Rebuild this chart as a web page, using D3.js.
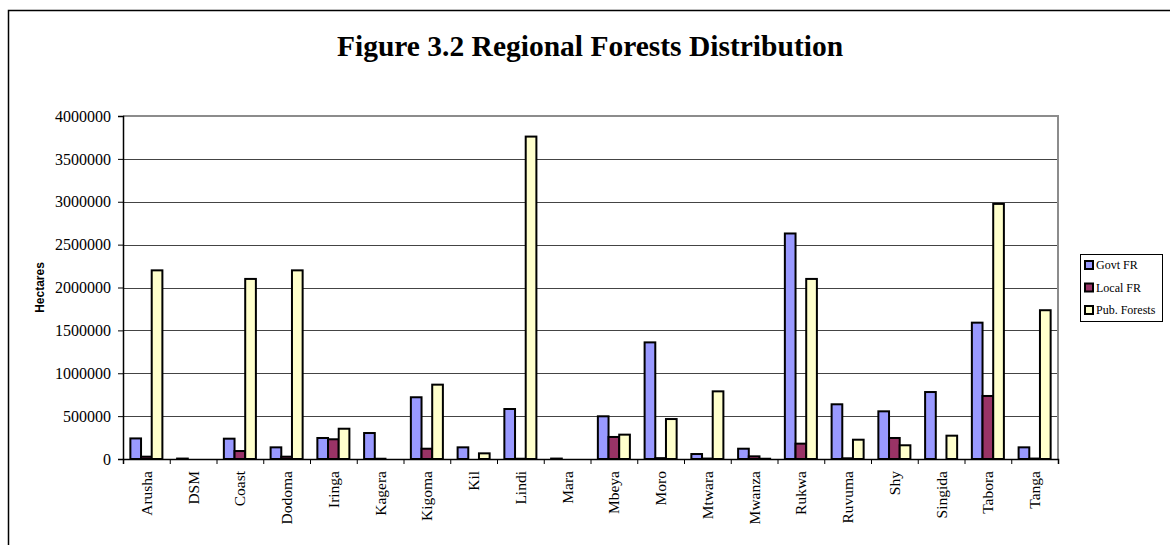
<!DOCTYPE html>
<html>
<head>
<meta charset="utf-8">
<script src="https://cdn.jsdelivr.net/npm/d3@7"></script>
<style>
  body { margin: 0; background: #fff; }
  svg { display: block; }
</style>
</head>
<body>
<script>
// Chart data
var regions = ["Arusha", "DSM", "Coast", "Dodoma", "Iringa", "Kagera", "Kigoma", "Kil", "Lindi", "Mara",
  "Mbeya", "Moro", "Mtwara", "Mwanza", "Rukwa", "Ruvuma", "Shy", "Singida", "Tabora", "Tanga"];
var govtFR = [240000, 5000, 237000, 136000, 245000, 303000, 720000, 136000, 583000, 5000,
  498000, 1360000, 58000, 120000, 2630000, 638000, 556000, 781000, 1590000, 136000];
var localFR = [27000, 0, 93000, 27000, 230000, 3000, 120000, 0, 3000, 0,
  257000, 10000, 5000, 31000, 179000, 8000, 245000, 0, 735000, 5000];
var pubForests = [2200000, 0, 2100000, 2200000, 353000, 0, 867000, 66000, 3760000, 0,
  284000, 466000, 789000, 3000, 2100000, 225000, 160000, 272000, 2975000, 1735000];
var seriesNames = ["Govt FR", "Local FR", "Pub. Forests"];
var seriesColors = ["#9999ff", "#993366", "#ffffcc"];
var yTicks = [0, 500000, 1000000, 1500000, 2000000, 2500000, 3000000, 3500000, 4000000];

// SVG area
var svgWidth = 1170;
var svgHeight = 545;
var margin = { top: 116, right: 112, bottom: 86, left: 123 };
var chartWidth = svgWidth - margin.left - margin.right;
var chartHeight = svgHeight - margin.top - margin.bottom;

var svg = d3.select("body")
  .append("svg")
  .attr("width", svgWidth)
  .attr("height", svgHeight);

// outer frame
svg.append("rect")
  .attr("x", 8.5)
  .attr("y", 10.5)
  .attr("width", svgWidth)
  .attr("height", svgHeight)
  .attr("fill", "none")
  .attr("stroke", "#000")
  .attr("stroke-width", 1.5);

// title
svg.append("text")
  .attr("x", 590)
  .attr("y", 56)
  .attr("text-anchor", "middle")
  .style("font-family", "'Liberation Serif', 'Times New Roman', serif")
  .style("font-weight", "bold")
  .style("font-size", "29.5px")
  .text("Figure 3.2 Regional Forests Distribution");

var chartGroup = svg.append("g")
  .attr("transform", `translate(${margin.left}, ${margin.top})`);

// scales
var x0 = d3.scaleBand()
  .domain(regions)
  .range([0, chartWidth])
  .paddingInner(0.315)
  .paddingOuter(0.1575);

var x1 = d3.scaleBand()
  .domain(seriesNames)
  .range([0, x0.bandwidth()]);

var yLinearScale = d3.scaleLinear()
  .domain([0, 4000000])
  .range([chartHeight, 0]);

// gridlines
chartGroup.append("g")
  .selectAll("line")
  .data(yTicks.slice(1, -1))
  .join("line")
  .attr("x1", 0)
  .attr("x2", chartWidth)
  .attr("y1", d => Math.round(yLinearScale(d)) + 0.5)
  .attr("y2", d => Math.round(yLinearScale(d)) + 0.5)
  .attr("stroke", "#444")
  .attr("stroke-width", 1);

// plot area border (top + right)
chartGroup.append("path")
  .attr("d", `M0,${yLinearScale(4000000)}H${chartWidth}V${chartHeight}`)
  .attr("fill", "none")
  .attr("stroke", "#8c8c8c")
  .attr("stroke-width", 2);

// bars
var rows = regions.map((r, i) => ({
  region: r,
  values: [govtFR[i], localFR[i], pubForests[i]]
}));

chartGroup.append("g")
  .selectAll("g")
  .data(rows)
  .join("g")
  .attr("transform", d => `translate(${x0(d.region)},0)`)
  .selectAll("rect")
  .data(d => d.values.map((v, j) => ({ name: seriesNames[j], value: v, color: seriesColors[j] })))
  .join("rect")
  .attr("x", d => x1(d.name))
  .attr("width", x1.bandwidth())
  .attr("y", d => yLinearScale(d.value))
  .attr("height", d => chartHeight - yLinearScale(d.value))
  .attr("fill", d => d.color)
  .attr("stroke", "#000")
  .attr("stroke-width", 2);

// left axis
var leftAxis = d3.axisLeft(yLinearScale)
  .tickValues(yTicks)
  .tickSize(5)
  .tickPadding(7)
  .tickFormat(d3.format("d"));

chartGroup.append("g")
  .call(leftAxis)
  .call(g => g.select(".domain").attr("stroke", "#000").attr("stroke-width", 1.5))
  .call(g => g.selectAll(".tick line").attr("stroke", "#000"))
  .call(g => g.selectAll(".tick text")
    .style("font-family", "'Liberation Serif', 'Times New Roman', serif")
    .style("font-size", "16px")
    .attr("fill", "#000"));

// bottom axis: tick marks at category boundaries
var xEdge = d3.scaleLinear().domain([0, regions.length]).range([0, chartWidth]);
var bottomAxis = d3.axisBottom(xEdge)
  .tickValues(d3.range(regions.length + 1))
  .tickSize(5)
  .tickFormat("");

chartGroup.append("g")
  .attr("transform", `translate(0, ${chartHeight})`)
  .call(bottomAxis)
  .call(g => g.select(".domain").attr("stroke", "#000").attr("stroke-width", 1.5))
  .call(g => g.selectAll(".tick line").attr("stroke", "#000"));

// category labels, rotated
chartGroup.append("g")
  .selectAll("text")
  .data(regions)
  .join("text")
  .attr("transform", d => `translate(${x0(d) + x0.bandwidth() / 2}, ${chartHeight + 12}) rotate(-90)`)
  .attr("dy", "0.35em")
  .attr("text-anchor", "end")
  .style("font-family", "'Liberation Serif', 'Times New Roman', serif")
  .style("font-size", "15.5px")
  .text(d => d);

// y axis title
svg.append("text")
  .attr("transform", `translate(44, ${margin.top + chartHeight / 2}) rotate(-90)`)
  .attr("text-anchor", "middle")
  .style("font-family", "'Liberation Sans', Arial, sans-serif")
  .style("font-weight", "bold")
  .style("font-size", "12px")
  .text("Hectares");

// legend
var legend = svg.append("g")
  .attr("transform", "translate(1080, 254)");

legend.append("rect")
  .attr("x", 0.5)
  .attr("y", 0.5)
  .attr("width", 82)
  .attr("height", 67)
  .attr("fill", "#fff")
  .attr("stroke", "#000")
  .attr("stroke-width", 1);

var legendItems = legend.selectAll("g.item")
  .data(seriesNames)
  .join("g")
  .attr("class", "item")
  .attr("transform", (d, i) => `translate(0, ${11 + i * 22.5})`);

legendItems.append("rect")
  .attr("x", 5)
  .attr("y", -4)
  .attr("width", 8)
  .attr("height", 8)
  .attr("fill", (d, i) => seriesColors[i])
  .attr("stroke", "#000")
  .attr("stroke-width", 2);

legendItems.append("text")
  .attr("x", 16)
  .attr("dy", "0.35em")
  .style("font-family", "'Liberation Serif', 'Times New Roman', serif")
  .style("font-size", "12px")
  .text(d => d);
</script>
</body>
</html>
